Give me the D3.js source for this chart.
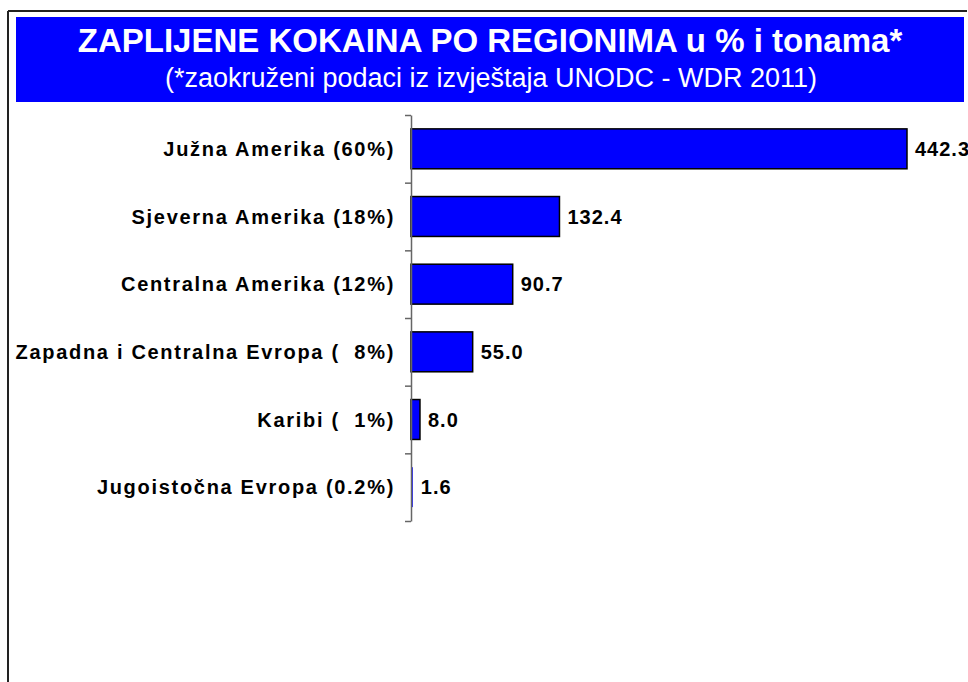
<!DOCTYPE html>
<html>
<head>
<meta charset="utf-8">
<script src="https://cdn.jsdelivr.net/npm/d3@7"></script>
<style>
  body { margin: 0; background: #fff; }
  svg { display: block; font-family: 'Liberation Sans', Arial, sans-serif; }
</style>
</head>
<body>
<div id="chart"></div>
<script>
const categories = [
  'Južna Amerika (60%)',
  'Sjeverna Amerika (18%)',
  'Centralna Amerika (12%)',
  'Zapadna i Centralna Evropa (  8%)',
  'Karibi (  1%)',
  'Jugoistočna Evropa (0.2%)',
];
const values = [442.3, 132.4, 90.7, 55.0, 8.0, 1.6];

const titleText = 'ZAPLIJENE KOKAINA PO REGIONIMA u % i tonama*';
const subtitleText = '(*zaokruženi podaci iz izvještaja UNODC - WDR 2011)';

const width = 968;
const height = 682;

const svg = d3.select('#chart').append('svg')
  .attr('width', width)
  .attr('height', height);

// outer frame (only top and left edges are visible)
svg.append('line')
  .attr('x1', 8).attr('y1', 11).attr('x2', 967).attr('y2', 11)
  .style('stroke', '#222').style('stroke-width', 2);
svg.append('line')
  .attr('x1', 8).attr('y1', 11).attr('x2', 8).attr('y2', height)
  .style('stroke', '#222').style('stroke-width', 2);

// title box
svg.append('rect')
  .attr('x', 16).attr('y', 17)
  .attr('width', 948).attr('height', 85)
  .style('fill', '#0000ff');

svg.append('text')
  .attr('x', 490).attr('y', 52)
  .attr('text-anchor', 'middle')
  .style('fill', '#fff')
  .style('font-weight', 'bold')
  .style('font-size', '33px')
  .text(titleText);

svg.append('text')
  .attr('x', 491).attr('y', 87)
  .attr('text-anchor', 'middle')
  .style('fill', '#fff')
  .style('font-size', '27px')
  .text(subtitleText);

// scales
const x0 = 411;
const scaleX = d3.scaleLinear().domain([0, 442.3]).range([x0, 907]);
const scaleY = d3.scaleBand()
  .domain(categories)
  .range([115, 521])
  .paddingInner(0.41)
  .paddingOuter(0.205);
const tickScale = d3.scaleLinear().domain([0, categories.length]).range([115, 521]);

// bars
svg.selectAll('.bar')
  .data(values)
  .enter().append('rect')
  .attr('class', 'bar')
  .attr('x', scaleX(0))
  .attr('y', (d, i) => scaleY(categories[i]))
  .attr('width', (d) => scaleX(d) - scaleX(0))
  .attr('height', scaleY.bandwidth())
  .style('fill', '#0000ff')
  .style('stroke', '#000')
  .style('stroke-width', (d) => (scaleX(d) - scaleX(0) < 4 ? 0 : 1.5));

// axis with ticks between categories
svg.append('g')
  .attr('transform', `translate(${x0},0)`)
  .call(d3.axisLeft(tickScale).tickValues(d3.range(categories.length + 1)).tickFormat('').tickSize(6).tickSizeOuter(0))
  .call((g) => g.selectAll('line, path').style('stroke', '#666').style('stroke-width', 1.5));

// category labels
const catAxis = svg.append('g')
  .attr('transform', `translate(${x0},0)`)
  .call(d3.axisLeft(scaleY).tickSize(0).tickPadding(16));
catAxis.select('.domain').remove();
catAxis.selectAll('text')
  .style('font-family', "'Liberation Sans', Arial, sans-serif")
  .style('font-size', '20px')
  .style('font-weight', 'bold')
  .style('letter-spacing', '1.7px')
  .style('fill', '#000')
  .attr('dy', '0.35em')
  .style('white-space', 'pre');

// value labels
svg.selectAll('.value')
  .data(values)
  .enter().append('text')
  .attr('class', 'value')
  .attr('x', (d) => scaleX(d) + 8)
  .attr('y', (d, i) => scaleY(categories[i]) + scaleY.bandwidth() / 2)
  .attr('dy', '0.35em')
  .style('font-size', '20px')
  .style('font-weight', 'bold')
  .style('letter-spacing', '1px')
  .text((d) => d.toFixed(1));
</script>
</body>
</html>
